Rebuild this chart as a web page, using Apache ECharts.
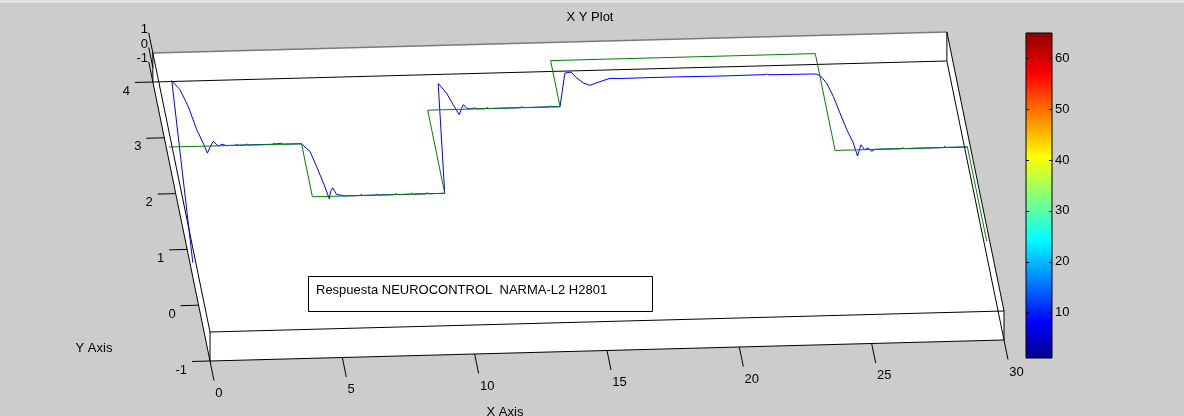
<!DOCTYPE html>
<html>
<head>
<meta charset="utf-8">
<script src="https://cdn.jsdelivr.net/npm/echarts@6/dist/echarts.min.js"></script>
<style>
html,body{margin:0;padding:0;background:#cccccc;}
#c{width:1184px;height:416px;}
</style>
</head>
<body>
<div id="c"></div>
<script>
// ---------- data ----------
const xTicks = [0, 5, 10, 15, 20, 25, 30];
const yTicks = [-1, 0, 1, 2, 3, 4];
const zTicks = [-1, 0, 1];
const colorbarTicks = [10, 20, 30, 40, 50, 60];
const colorbarRange = [1, 65];

// reference (green)
const refX = [0, 5, 5, 10, 10, 15, 15, 25, 25, 30, 30];
const refY = [2.575, 2.57, 1.62, 1.62, 3.11, 3.11, 3.935, 3.935, 2.2, 2.2, 0.51];

// response (blue)
const respX = [0, 0.61, 0.85, 1.03, 1.17, 1.31, 1.39, 1.55, 1.70, 1.85, 2.0, 2.15,
  2.5, 2.55, 2.6, 2.9, 2.95, 3.0, 3.9, 3.95, 4.0, 4.25, 4.3, 5.0,
  5.26, 5.39, 5.52, 5.62, 5.72, 5.83, 5.93, 6.05, 6.2,
  6.8, 6.85, 6.9, 7.4, 7.45, 7.5, 8.1, 8.15, 8.2, 8.7, 8.75, 8.8, 9.3, 9.35, 9.4, 10.0,
  10.6, 10.84, 11.0, 11.15, 11.28, 11.38, 11.48, 11.6,
  11.8, 11.85, 12.2, 12.25, 12.3, 13.5, 13.55, 13.6, 14.6, 14.65, 14.7, 15.0,
  15.44, 15.68, 15.85, 16.06, 16.29, 16.69, 17.09, 17.4, 19.36, 21.5, 23.0, 23.05, 23.1,
  24.87, 25.03, 25.2, 25.35, 25.47, 25.6, 25.74, 25.8, 26.01, 26.12, 26.26, 26.37, 26.5,
  27.5, 27.55, 27.6, 29.1, 29.15, 29.2, 30];
const respY = [0.5, 3.756, 3.59, 3.289, 2.869, 2.629, 2.448, 2.56, 2.656, 2.566, 2.6, 2.575,
  2.575, 2.595, 2.575, 2.575, 2.593, 2.575, 2.575, 2.595, 2.578, 2.59, 2.572, 2.57,
  2.428, 2.16, 1.862, 1.575, 1.7, 1.77, 1.65, 1.64, 1.62,
  1.62, 1.64, 1.62, 1.62, 1.638, 1.62, 1.62, 1.64, 1.62, 1.62, 1.638, 1.62, 1.62, 1.64, 1.62, 1.62,
  3.581, 3.405, 3.194, 3.014, 3.12, 3.19, 3.13, 3.11,
  3.128, 3.11, 3.11, 3.13, 3.11, 3.11, 3.128, 3.11, 3.11, 3.128, 3.11, 3.11,
  3.706, 3.722, 3.613, 3.521, 3.477, 3.536, 3.591, 3.584, 3.586, 3.58, 3.585, 3.598, 3.58,
  3.572, 3.534, 3.403, 3.163, 2.866, 2.566, 2.328, 2.09, 2.287, 2.197, 2.228, 2.167, 2.2,
  2.2, 2.218, 2.2, 2.2, 2.218, 2.2, 2.2];

// ---------- view / style ----------
const X_RANGE = [0, 30], Y_RANGE = [-1, 4], Z_RANGE = [-1, 1];
const DATA_Z = 0;
const SHEAR_X = -0.2048;   // horizontal shift per pixel of height (3D view)
const SHEAR_Y = -0.02646;  // vertical shift per pixel of width
const Z_PX = 14.5;         // pixels per z unit
const FONT = '13px "Liberation Sans", Arial, sans-serif';
const JET = [
  {offset: 0, color: '#8f0000'}, {offset: 0.127, color: '#ff0000'},
  {offset: 0.381, color: '#ffff00'}, {offset: 0.635, color: '#00ffff'},
  {offset: 0.889, color: '#0000ff'}, {offset: 1, color: '#00008f'}
];

function makeProj(api) {
  const o = api.coord([X_RANGE[0], Y_RANGE[0]]);
  return function (x, y, z) {
    const p = api.coord([x, y]);
    return [p[0] + SHEAR_X * (o[1] - p[1]),
            p[1] + SHEAR_Y * (p[0] - o[0]) - Z_PX * (z - Z_RANGE[0])];
  };
}

function renderFrame(params, api) {
  const P = makeProj(api);
  const [x0, x1] = X_RANGE, [y0, y1] = Y_RANGE, [z0, z1] = Z_RANGE;
  const kids = [];
  const hull = [P(x0, y1, z1), P(x1, y1, z1), P(x1, y0, z1), P(x1, y0, z0), P(x0, y0, z0), P(x0, y1, z0)];
  kids.push({type: 'polygon', shape: {points: hull}, style: {fill: '#ffffff', stroke: null}});
  const line = (a, b, color, w) => kids.push({type: 'line',
    shape: {x1: a[0], y1: a[1], x2: b[0], y2: b[1]},
    style: {stroke: color || '#000', lineWidth: w || 1}});
  const text = (p, s, align, valign) => kids.push({type: 'text', x: p[0], y: p[1],
    style: {text: s, font: FONT, fill: '#000', align: align, verticalAlign: valign}});
  // edges along x
  [[y0, z0], [y0, z1], [y1, z0]].forEach(([y, z]) => line(P(x0, y, z), P(x1, y, z)));
  line(P(x0, y1, z1), P(x1, y1, z1), '#7a7a7a', 1.6);
  // edges along y
  [[x0, z0], [x0, z1], [x1, z0], [x1, z1]].forEach(([x, z]) => line(P(x, y0, z), P(x, y1, z)));
  // edges along z
  [[x0, y0], [x0, y1], [x1, y0], [x1, y1]].forEach(([x, y]) => line(P(x, y, z0), P(x, y, z1)));
  // x ticks
  xTicks.forEach(t => {
    line(P(t, y0, z0), P(t, y0 - 0.35, z0));
    text(P(t, y0 - 0.46, z0), String(t), 'left', 'top');
  });
  // y ticks
  yTicks.forEach(t => {
    line(P(x0, t, z0), P(x0 - 0.68, t, z0));
    text(P(x0 - 0.93, t - 0.15, z0), String(t), 'right', 'middle');
  });
  // z ticks
  zTicks.forEach(t => {
    line(P(x0, y1, t), P(x0, y1 + 0.36, t));
    text(P(x0, y1 + 0.42, t), String(t), 'right', 'middle');
  });
  return {type: 'group', children: kids};
}

function lineSeries(xs, ys, color) {
  return {
    type: 'custom', coordinateSystem: 'cartesian2d', xAxisIndex: 0, yAxisIndex: 0,
    clip: false, silent: true, data: [[xs[0], ys[0]]],
    renderItem: (params, api) => {
      const P = makeProj(api);
      const pts = xs.map((x, i) => P(x, ys[i], DATA_Z));
      return {type: 'polyline', shape: {points: pts}, style: {stroke: color, lineWidth: 1, fill: null}};
    }
  };
}

function renderColorbar(params, api) {
  const a = api.coord([0, colorbarRange[1]]);
  const b = api.coord([1, colorbarRange[0]]);
  const kids = [{type: 'rect', shape: {x: a[0], y: a[1], width: b[0] - a[0], height: b[1] - a[1]},
    style: {fill: {type: 'linear', x: 0, y: 0, x2: 0, y2: 1, colorStops: JET}, stroke: '#000', lineWidth: 1}}];
  colorbarTicks.forEach(t => {
    const l = api.coord([0, t]), r = api.coord([1, t]);
    const yy = Math.round(l[1]) + 0.5;
    kids.push({type: 'line', shape: {x1: l[0], y1: yy, x2: l[0] + 3, y2: yy}, style: {stroke: '#000', lineWidth: 1}});
    kids.push({type: 'line', shape: {x1: r[0] - 3, y1: yy, x2: r[0], y2: yy}, style: {stroke: '#000', lineWidth: 1}});
  });
  return {type: 'group', children: kids};
}

const chart = echarts.init(document.getElementById('c'), null, {renderer: 'canvas'});
const option = {
  backgroundColor: '#cccccc',
  animation: false,
  grid: [
    {left: 210, top: 82, width: 794, height: 279},
    {left: 1026, top: 33, width: 26, height: 325}
  ],
  xAxis: [
    {type: 'value', gridIndex: 0, min: X_RANGE[0], max: X_RANGE[1], show: false},
    {type: 'value', gridIndex: 1, min: 0, max: 1, show: false}
  ],
  yAxis: [
    {type: 'value', gridIndex: 0, min: Y_RANGE[0], max: Y_RANGE[1], show: false},
    {type: 'value', gridIndex: 1, min: colorbarRange[0], max: colorbarRange[1], position: 'right',
      axisLine: {show: false},
      axisTick: {show: false},
      axisLabel: {show: true, customValues: colorbarTicks, margin: 3, color: '#000', fontSize: 13,
        fontFamily: '"Liberation Sans", Arial, sans-serif'},
      splitLine: {show: false}}
  ],
  graphic: [
    {type: 'rect', shape: {x: 0, y: 0, width: 1184, height: 3}, style: {fill: '#e2e2e2'}},
    {type: 'text', x: 590, y: 17, style: {text: 'X Y Plot', font: FONT, fill: '#000', align: 'center', verticalAlign: 'middle'}},
    {type: 'text', x: 94, y: 348, style: {text: 'Y Axis', font: FONT, fill: '#000', align: 'center', verticalAlign: 'middle'}},
    {type: 'text', x: 505, y: 412, style: {text: 'X Axis', font: FONT, fill: '#000', align: 'center', verticalAlign: 'middle'}},
    {type: 'rect', z: 100, shape: {x: 308.5, y: 276.5, width: 344, height: 35}, style: {fill: '#ffffff', stroke: '#000', lineWidth: 1}},
    {type: 'text', z: 101, x: 316, y: 290, style: {text: 'Respuesta NEUROCONTROL  NARMA-L2 H2801', font: FONT, fill: '#000', align: 'left', verticalAlign: 'middle'}}
  ],
  series: [
    {type: 'custom', coordinateSystem: 'cartesian2d', xAxisIndex: 0, yAxisIndex: 0, clip: false, silent: true,
      data: [[X_RANGE[0], Y_RANGE[0]]], renderItem: renderFrame},
    lineSeries(respX, respY, '#0000ff'),
    lineSeries(refX, refY, '#008000'),
    {type: 'custom', coordinateSystem: 'cartesian2d', xAxisIndex: 1, yAxisIndex: 1, clip: false, silent: true,
      data: [[0, colorbarRange[0]]], renderItem: renderColorbar}
  ]
};
chart.setOption(option);
</script>
</body>
</html>
